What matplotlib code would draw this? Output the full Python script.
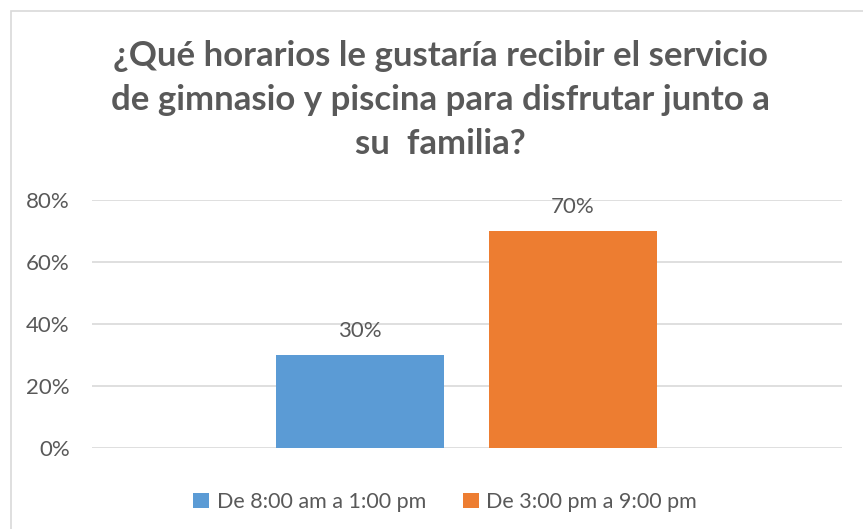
import matplotlib
matplotlib.use('Agg')
import matplotlib.pyplot as plt
from matplotlib.patches import Rectangle, Patch
from matplotlib.ticker import FuncFormatter

plt.rcParams['font.family'] = ['Lato', 'DejaVu Sans']

# data
series = ['De 8:00 am a 1:00 pm', 'De 3:00 pm a 9:00 pm']
values = [0.30, 0.70]
colors = ['#5b9bd5', '#ed7d31']
yticks = [0, 0.2, 0.4, 0.6, 0.8]
title = '¿Qué horarios le gustaría recibir el servicio\nde gimnasio y piscina para disfrutar junto a\nsu  familia?'

text_gray = '#595959'
grid_gray = '#d9d9d9'

fig = plt.figure(figsize=(8.63, 5.29), dpi=100)
ax = fig.add_axes([0.1066, 0.1537, 0.869, 0.4677])

# chart border (runs off the right and bottom edges)
fig.patches.append(Rectangle((11 / 863, -0.05), 1.0, 1 - 11 / 529 + 0.05,
                             transform=fig.transFigure, fill=False,
                             edgecolor=grid_gray, linewidth=1.2))

x = list(range(len(values)))
bars = ax.bar(x, values, width=0.79, color=colors, zorder=3)

for b, v in zip(bars, values):
    ax.text(b.get_x() + b.get_width() / 2, v + 0.045, f'{v:.0%}',
            ha='center', va='bottom', fontsize=16, color=text_gray)

ax.set_xlim(-1.258, 2.263)
ax.set_ylim(0, 0.8)
ax.set_yticks(yticks)
ax.yaxis.set_major_formatter(FuncFormatter(lambda v, p: f'{v:.0%}'))
ax.tick_params(axis='y', length=0, labelsize=16, labelcolor=text_gray, pad=16)
ax.set_xticks([])
ax.grid(axis='y', color=grid_gray, linewidth=1.2, zorder=0)
for s in ax.spines.values():
    s.set_visible(False)

fig.text(440 / 863, 1 - 100 / 529, title, ha='center', va='center',
         fontsize=25, fontweight='bold', color=text_gray, linespacing=1.48)

handles = [Patch(facecolor=c, label=s) for c, s in zip(colors, series)]
fig.legend(handles=handles, loc='center', bbox_to_anchor=(445 / 863, 1 - 502 / 529),
           ncol=2, frameon=False, fontsize=15.5, labelcolor=text_gray,
           handlelength=0.75, handleheight=0.75, handletextpad=0.35, columnspacing=1.7)

fig.savefig('out.png', dpi=100)
